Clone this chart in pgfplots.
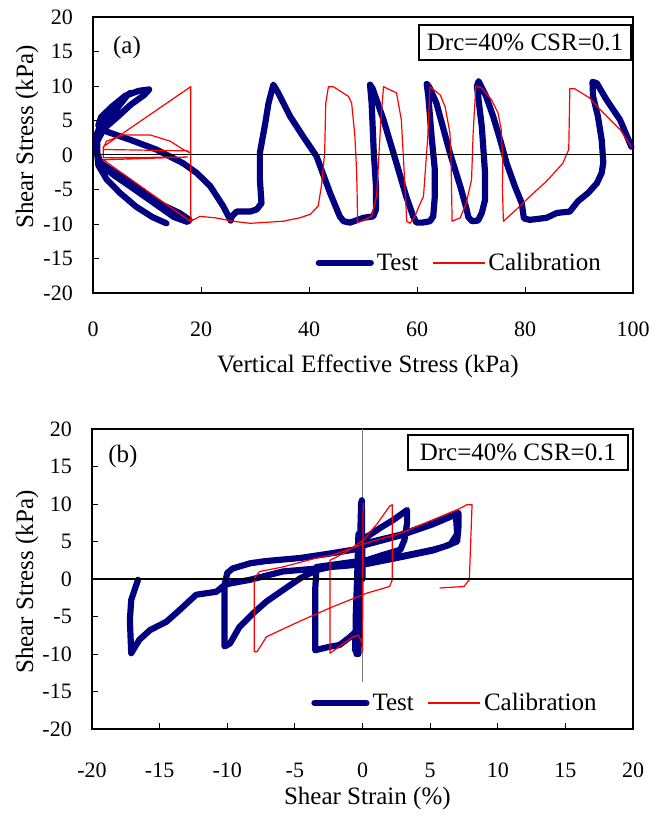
\documentclass[border=0pt]{standalone}
\usepackage{fontspec}
\setmainfont{Liberation Serif}
\usepackage{pgfplots}
\pgfplotsset{compat=1.18}
\definecolor{navyb}{RGB}{0,0,128}
\definecolor{redc}{RGB}{255,0,0}
\newcommand{\ticksize}{\fontsize{22}{26}\selectfont}
\newcommand{\labsize}{\fontsize{25}{30}\selectfont}
\pgfplotsset{
  mystyle/.style={
    scale only axis, clip=false,
    axis line style={line width=1.8pt},
    tick align=inside, tick pos=left,
    major tick length=6pt,
    every tick/.style={black, line width=0.9pt},
    /pgf/number format/assume math mode=true,
    tick label style={font=\ticksize},
    yticklabel style={inner sep=0pt, xshift=-20pt},
    label style={font=\labsize},
    ymin=-20, ymax=20, ytick={-20,-15,...,20},
    legend columns=2,
    legend style={draw=none, fill=none, font=\labsize, inner sep=0pt, anchor=west,
      nodes={inner sep=3pt}, /tikz/every even column/.append style={column sep=11pt}},
    legend image code/.code={\draw[#1] (0pt,0pt) -- (52pt,0pt);},
  },
  testline/.style={navyb, line width=6.2pt, line join=round, line cap=round},
  calline/.style={redc, line width=1.2pt, line join=round},
}
\begin{document}
\begin{tikzpicture}
\useasboundingbox (0,0) rectangle (665pt,816pt);
% ---------------- panel (a)
\begin{axis}[mystyle,
  at={(93pt,523pt)}, anchor=south west,
  width=540pt, height=276pt,
  xmin=0, xmax=100, xtick={0,20,...,100},
  xticklabel style={inner sep=0pt, yshift=-29pt},
  xlabel={Vertical Effective Stress (kPa)},
  ylabel={Shear Stress (kPa)},
  xlabel style={at={(axis description cs:0.509,-0.2645)}, anchor=center},
  ylabel style={at={(axis description cs:-0.122,0.565)}, anchor=center},
  legend style={at={(axis description cs:0.412,0.109)}},
]
\addplot[testline] coordinates {
(99.7,1.2)(97.6,5.1)(95.1,8.0)(93.3,10.4)(92.5,10.6)(92.6,8.5)(93.5,5.6)(94.2,2.2)(94.5,-1.1)(94.2,-2.6)(93.3,-4.1)(91.7,-5.5)(89.8,-6.7)(88.3,-8.2)(85.9,-8.4)(84.0,-9.1)(80.9,-9.4)(79.8,-9.2)
(79.4,-7.0)(78.1,-4.5)(76.6,-1.2)(75.4,2.2)(74.1,5.6)(72.8,8.5)(71.4,10.7)(71.1,10.0)(71.4,8.0)(72.0,4.1)(72.3,0.8)(72.6,-2.6)(72.6,-6.5)(72.0,-8.4)(71.3,-9.5)(70.2,-9.6)(69.5,-9.0)
(69.2,-7.9)(68.0,-4.5)(66.1,0.3)(63.6,7.5)(62.3,9.8)(61.8,10.3)(62.1,8.5)(62.7,2.7)(63.3,-2.1)(63.3,-6.0)(63.0,-8.9)(62.4,-9.6)(61.0,-9.8)(59.9,-9.8)(59.3,-8.9)
(58.0,-6.0)(56.2,-1.2)(53.8,5.1)(51.8,9.6)(51.3,10.2)(51.6,7.5)(52.0,0.3)(52.4,-4.5)(52.4,-7.9)(51.9,-8.9)(50.1,-9.1)(47.6,-9.8)(46.4,-9.6)(45.7,-8.9)
(43.9,-5.5)(41.4,-0.2)(38.9,2.7)(36.5,5.6)(34.3,9.0)(33.4,10.2)(32.5,7.5)(31.9,4.6)(30.9,0.3)(30.9,-3.5)(31.2,-7.0)(30.3,-7.9)(29.1,-8.2)(26.6,-8.2)(25.7,-8.9)(25.5,-9.5)
(24.1,-7.4)(21.7,-4.5)(19.2,-2.6)(16.7,-1.2)(11.7,0.8)(6.9,2.2)(2.5,3.4)(1.0,4.3)
(1.5,5.5)(3.5,7.0)(6.0,8.6)(8.5,9.3)(10.4,9.5)(9.5,8.7)(7.0,7.3)(4.5,5.5)(2.0,3.8)(0.8,2.0)(0.8,0.0)(1.5,-1.2)(4.0,-2.5)(7.0,-4.0)(10.0,-5.8)(13.0,-7.3)(16.0,-8.4)(17.9,-9.4)(17.5,-9.7)
(15.0,-9.0)(11.0,-6.8)(7.0,-4.6)(4.0,-3.0)(1.5,-1.5)(0.7,0.5)(0.7,3.0)(1.5,4.5)(3.0,6.0)(5.0,7.8)(6.9,9.0)(6.3,8.6)(4.5,6.8)(2.5,5.0)(1.0,3.5)(0.6,1.5)(1.0,-1.5)(2.5,-3.5)(5.0,-5.5)(8.0,-7.5)(11.0,-9.0)(13.6,-9.9)
};
\addlegendentry{Test}
\addplot[calline] coordinates {
(99.7,1.2)(97.6,3.7)(94.5,6.1)(91.9,8.3)(89.2,9.6)(88.3,9.6)(88.2,5.0)(88.1,0.8)(87.0,-1.2)(84.0,-3.8)(80.9,-6.0)(78.4,-7.9)(76.0,-9.6)
(75.8,-4.5)(75.9,-1.6)(75.6,3.7)(75.0,6.1)(73.8,8.0)(72.0,9.7)(70.9,10.0)(70.6,6.0)(70.4,3.2)(70.1,-3.6)(69.1,-7.0)(68.0,-9.1)(66.5,-9.6)
(66.4,-5.0)(66.3,0.0)(66.1,3.2)(65.2,7.0)(64.3,8.7)(62.4,9.9)(62.0,2.7)(61.2,-6.0)(60.6,-7.0)(59.6,-8.9)(58.7,-9.9)(58.1,-9.6)
(57.6,-2.1)(57.1,5.1)(56.2,9.0)(53.8,9.9)(53.3,5.0)(52.8,-2.1)(52.5,-6.0)(51.6,-8.9)(49.0,-9.8)
(48.9,-5.0)(48.8,-2.1)(48.5,2.7)(47.9,7.5)(47.3,8.5)(46.3,9.0)(44.5,9.9)(43.6,9.9)(43.1,7.5)(42.9,0.3)(42.3,-4.5)(41.7,-7.4)(40.2,-8.6)(38.3,-9.1)(35.2,-9.6)(29.1,-9.9)(26.0,-9.6)(22.6,-9.1)(19.8,-8.9)(18.1,-9.6)
(18.1,9.9)(1.9,1.2)(1.9,0.8)(17.5,0.6)(18.0,0.3)(16.7,0.8)(14.3,2.0)(10.6,2.9)(5.6,2.9)(2.5,2.0)(1.9,1.0)(1.9,-0.4)(17.5,-0.3)(1.9,-0.7)(18.0,-9.6)
};
\addlegendentry{Calibration}
\addplot[black, line width=1pt, forget plot] coordinates {(0,0)(100,0)};
\node[draw, line width=1.5pt, minimum width=212pt, minimum height=35pt, inner sep=0pt, font=\labsize]
  at (axis description cs:0.8,0.9076) {Drc=40\% CSR=0.1};
\node[font=\labsize] at (axis description cs:0.063,0.891) {(a)};
\end{axis}
% ---------------- panel (b)
\begin{axis}[mystyle,
  at={(92pt,87pt)}, anchor=south west,
  width=541pt, height=300pt,
  xmin=-20, xmax=20, xtick={-20,-15,...,20},
  xticklabel style={inner sep=0pt, yshift=-34pt},
  xlabel={Shear Strain (\%)},
  ylabel={Shear Stress (kPa)},
  xlabel style={at={(axis description cs:0.509,-0.233)}, anchor=center},
  ylabel style={at={(axis description cs:-0.120,0.49)}, anchor=center},
  legend style={at={(axis description cs:0.405,0.0867)}},
]
\addplot[gray, line width=0.8pt, forget plot] coordinates {(0,20)(0,-13.7)};
\addplot[testline] coordinates {
(0,0)(-0.05,10.5)(-0.15,0)(-0.3,-10)(-0.2,0)(-0.1,10.2)(-0.25,0)(-0.45,-10)(-0.5,-5)(-0.4,0)(-0.3,6)(-0.35,0)(-0.55,-9.5)(-0.45,-3)(-0.25,2)(-0.2,3.8)
(0.3,5.6)(1.3,6.8)(2.3,7.9)(3.3,9.2)(3.3,7.5)(3.1,5.2)(2.8,3.9)(1.5,3.2)(0.3,2.5)(-1,2.2)(-2.2,1.9)(-3.4,1.6)(-3.5,-1.5)(-3.5,-4.6)(-3.5,-9.5)
(-2.6,-9.1)(-1.7,-8.8)(-0.9,-7.7)(-0.5,-7.0)(-0.4,-3)(-0.3,2)(-0.2,4)(0.3,4.8)(2.8,5.9)(5.2,7.4)(6.7,8.5)(7.1,8.8)(7.1,7)(7.0,5.0)(6,4.3)(5.2,3.9)(2.8,3.0)(0.3,2.1)(-1,1.8)(-2.4,1.6)
(-3.4,1.2)(-4.6,0.1)(-5.9,-1.5)(-7.1,-3.0)(-8.1,-4.6)(-9.1,-6.4)(-9.8,-8.6)(-10.2,-9.0)(-10.2,-5.5)(-10.2,-0.8)(-10.0,0.8)(-9.6,1.4)(-8.3,2.1)(-7.1,2.4)(-4.6,2.8)(-2.4,3.4)(-0.7,3.9)
(0.3,4.6)(2.8,5.8)(5.2,7.3)(6.9,8.6)(7.0,6)(6.5,4.6)(5.2,3.8)(2.8,2.9)(0.3,2.0)(-2.4,1.6)(-3.4,1.4)(-5.9,1.0)(-8.3,-0.1)(-9.8,-0.6)(-10.2,-0.8)(-10.8,-1.7)(-12.3,-2.1)(-13.5,-4.1)(-14.5,-5.7)(-15.7,-6.8)(-16.5,-8.1)(-17.1,-9.9)(-17.2,-5.5)(-17.1,-2.8)(-16.6,-0.1)
};
\addlegendentry{Test}
\addplot[calline] coordinates {
(0,0)(0.05,10.1)(0.0,-9.7)(0.0,-8.6)(-0.3,-7.5)(-0.7,-7.7)(-1.4,-8.6)(-2.4,-9.9)(-2.4,2.5)(-1.2,3.6)(0.06,5.2)(1.1,7.4)(2.0,9.7)(2.2,9.9)(2.2,-0.1)(2.0,-1.0)
(0.3,-1.9)(-2.2,-3.7)(-4.6,-5.6)(-7.1,-7.7)(-7.8,-9.7)(-8.0,-9.7)(-8.0,0.1)(-7.6,1.0)(-5.9,1.6)(-3.4,2.8)(-2.2,3.2)(0.3,4.8)(2.8,6.1)(5.2,7.9)(7.2,9.4)(7.7,9.9)(8.1,9.9)(8.0,5)(7.9,-0.1)(7.5,-1.0)(5.7,-1.2)
};
\addlegendentry{Calibration}
\addplot[black, line width=1.6pt, forget plot] coordinates {(-20,0)(20,0)};
\node[draw, line width=1.5pt, minimum width=220pt, minimum height=35pt, inner sep=0pt, font=\labsize]
  at (axis description cs:0.7874,0.9217) {Drc=40\% CSR=0.1};
\node[font=\labsize] at (axis description cs:0.057,0.907) {(b)};
\end{axis}
\end{tikzpicture}
\end{document}
